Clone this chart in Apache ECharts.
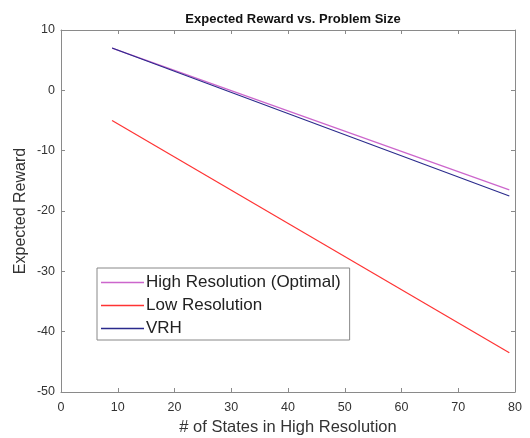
<!DOCTYPE html>
<html>
<head>
<meta charset="utf-8">
<script src="https://cdn.jsdelivr.net/npm/echarts@6/dist/echarts.min.js"></script>
<style>
  html, body { margin: 0; padding: 0; background: #fff; }
  #chart { width: 530px; height: 438px; }
</style>
</head>
<body>
<div id="chart"></div>
<script>
// data
const states = [9, 79];
const highRes = [7, -16.5];
const lowRes = [-5, -43.5];
const vrh = [7, -17.5];
const seriesNames = ['High Resolution (Optimal)', 'Low Resolution', 'VRH'];

const FONT = 'Liberation Sans, Arial, sans-serif';
const axisGrey = '#8a8a8a';
const textCol = '#333';

function pairs(xs, ys) {
  return xs.map((x, i) => [x, ys[i]]);
}

function lineSeries(name, ys, color, width) {
  return {
    name: name,
    type: 'line',
    data: pairs(states, ys),
    symbol: 'none',
    showSymbol: false,
    lineStyle: { color: color, width: width },
    itemStyle: { color: color },
    silent: true,
    animation: false
  };
}

// MATLAB style box: ticks inside, no labels on the top/right copies
function boxAxis(extra) {
  return Object.assign({
    type: 'value',
    axisLine: { show: true, onZero: false, lineStyle: { color: axisGrey, width: 1 } },
    axisTick: { show: true, inside: true, length: 4, lineStyle: { color: axisGrey } },
    splitLine: { show: false }
  }, extra);
}

const chart = echarts.init(document.getElementById('chart'));

chart.setOption({
  backgroundColor: '#fff',
  textStyle: { fontFamily: FONT },
  title: {
    text: 'Expected Reward vs. Problem Size',
    left: 288,
    textAlign: 'center',
    top: 8,
    textStyle: { fontSize: 13, fontWeight: 'bold', color: '#111', fontFamily: FONT }
  },
  grid: { left: 61, right: 15, top: 30, bottom: 46, outerBoundsMode: 'none' },
  legend: {
    orient: 'vertical',
    left: 97,
    top: 268,
    data: seriesNames,
    icon: 'rect',
    itemWidth: 43,
    itemHeight: 1.5,
    itemGap: 6,
    padding: [6, 9, 3, 4],
    borderColor: '#888',
    borderWidth: 1,
    backgroundColor: '#fff',
    selectedMode: false,
    textStyle: { fontSize: 17, lineHeight: 17, color: '#222', fontFamily: FONT, padding: [0, 0, 0, -3] }
  },
  xAxis: [
    boxAxis({
      min: 0, max: 80, interval: 10,
      name: '# of States in High Resolution',
      nameLocation: 'middle', nameGap: 27,
      nameMoveOverlap: false,
      nameTextStyle: { fontSize: 16.5, color: textCol, fontFamily: FONT },
      axisLabel: { fontSize: 12.5, color: textCol, margin: 9 }
    }),
    boxAxis({
      min: 0, max: 80, interval: 10, position: 'top',
      axisLabel: { show: false }
    })
  ],
  yAxis: [
    boxAxis({
      min: -50, max: 10, interval: 10,
      name: 'Expected Reward',
      nameLocation: 'middle', nameGap: 32,
      nameMoveOverlap: false,
      nameTextStyle: { fontSize: 16, color: textCol, fontFamily: FONT },
      axisLabel: { fontSize: 12.5, color: textCol, margin: 6 }
    }),
    boxAxis({
      min: -50, max: 10, interval: 10, position: 'right',
      axisLabel: { show: false }
    })
  ],
  series: [
    lineSeries(seriesNames[0], highRes, '#cc66cc', 1.2),
    lineSeries(seriesNames[1], lowRes, '#ff3333', 1.2),
    lineSeries(seriesNames[2], vrh, '#2a2a8c', 1.1)
  ]
});
</script>
</body>
</html>
